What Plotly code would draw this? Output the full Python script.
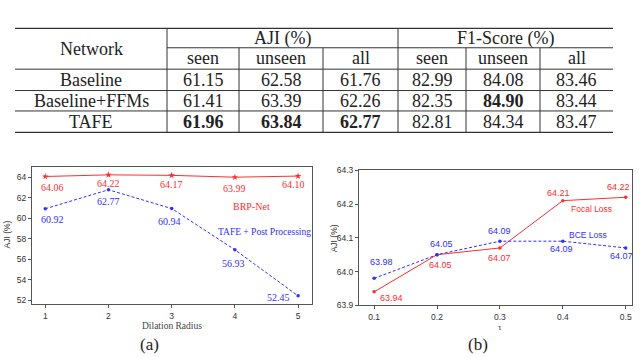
import plotly.graph_objects as go

# ── Table data ────────────────────────────────────────────────────────────────
networks   = ["Baseline", "Baseline+FFMs", "TAFE"]
sub_cols   = ["seen", "unseen", "all", "seen", "unseen", "all"]
aji_seen   = [61.15, 61.41, 61.96]
aji_unseen = [62.58, 63.39, 63.84]
aji_all    = [61.76, 62.26, 62.77]
f1_seen    = [82.99, 82.35, 82.81]
f1_unseen  = [84.08, 84.90, 84.34]
f1_all     = [83.46, 83.44, 83.47]
bold_cells = [(2, 0), (2, 1), (2, 2), (1, 4)]   # (row, value column)

# ── Chart (a) data ────────────────────────────────────────────────────────────
radius  = [1, 2, 3, 4, 5]
brp_net = [64.06, 64.22, 64.17, 63.99, 64.10]
tafe_pp = [60.92, 62.77, 60.94, 56.93, 52.45]

# ── Chart (b) data ────────────────────────────────────────────────────────────
tau   = [0.1, 0.2, 0.3, 0.4, 0.5]
focal = [63.94, 64.05, 64.07, 64.21, 64.22]
bce   = [63.98, 64.05, 64.09, 64.09, 64.07]

W, H = 640, 358
RED  = "#ff2d2d"
BLUE = "#2f2fff"
DARK = "#333333"
SERIF = "Liberation Serif, Times New Roman, serif"
SANS  = "Liberation Sans, Arial, sans-serif"


def px(x, y):
    """pixel position -> paper coords"""
    return x / W, 1 - y / H


fig = go.Figure()

# ── Table: grid lines ─────────────────────────────────────────────────────────
col_x  = [15, 167, 239, 323, 398, 466, 540, 613]
row_y  = [24, 44, 66, 88, 109, 131]
shapes = []

def hline(x0, x1, y, w=1.0):
    a, b = px(x0, y)
    c, _ = px(x1, y)
    shapes.append(dict(type="line", xref="paper", yref="paper", x0=a, x1=c, y0=b, y1=b,
                       line=dict(color=DARK, width=w)))

def vline(x, y0, y1):
    a, b = px(x, y0)
    _, d = px(x, y1)
    shapes.append(dict(type="line", xref="paper", yref="paper", x0=a, x1=a, y0=b, y1=d,
                       line=dict(color=DARK, width=1)))

hline(col_x[0], col_x[-1], row_y[0], 1.4)
hline(col_x[1], col_x[-1], row_y[1])
for y in row_y[2:5]:
    hline(col_x[0], col_x[-1], y)
hline(col_x[0], col_x[-1], row_y[-1], 1.4)
vline(col_x[1], row_y[0], row_y[-1])
vline(col_x[4], row_y[0], row_y[-1])
for x in [col_x[2], col_x[3], col_x[5], col_x[6]]:
    vline(x, row_y[1], row_y[-1])

# ── Table: text ───────────────────────────────────────────────────────────────
annotations = []

def cell(text, x, y, size=18, font=SERIF, color="#222"):
    a, b = px(x, y)
    annotations.append(dict(text=text, x=a, y=b, xref="paper", yref="paper",
                            showarrow=False, xanchor="center", yanchor="middle",
                            font=dict(family=font, size=size, color=color)))

cell("Network", (col_x[0] + col_x[1]) / 2, (row_y[0] + row_y[2]) / 2)
cell("AJI (%)", (col_x[1] + col_x[4]) / 2, (row_y[0] + row_y[1]) / 2)
cell("F1-Score (%)", (col_x[4] + col_x[7]) / 2, (row_y[0] + row_y[1]) / 2)
for j, name in enumerate(sub_cols):
    cell(name, (col_x[j + 1] + col_x[j + 2]) / 2, (row_y[1] + row_y[2]) / 2)

columns = [aji_seen, aji_unseen, aji_all, f1_seen, f1_unseen, f1_all]
for i, net in enumerate(networks):
    yc = (row_y[i + 2] + row_y[i + 3]) / 2
    cell(net, (col_x[0] + col_x[1]) / 2, yc)
    for j, col in enumerate(columns):
        txt = f"{col[i]:.2f}"
        if (i, j) in bold_cells:
            txt = f"<b>{txt}</b>"
        cell(txt, (col_x[j + 1] + col_x[j + 2]) / 2, yc)

# ── Chart (a) ─────────────────────────────────────────────────────────────────
fig.add_trace(go.Scatter(x=radius, y=brp_net, mode="lines+markers", name="BRP-Net",
                         line=dict(color=RED, width=1),
                         marker=dict(symbol="star", size=5, color=RED),
                         xaxis="x", yaxis="y"))
fig.add_trace(go.Scatter(x=radius, y=tafe_pp, mode="lines+markers", name="TAFE + Post Processing",
                         line=dict(color=BLUE, width=1, dash="3px,2px"),
                         marker=dict(symbol="circle", size=3.5, color=BLUE),
                         xaxis="x", yaxis="y"))

brp_shift  = [(7, -11), (0, -9), (0, -9), (0, -11), (-5, -8)]
tafe_shift = [(7, -11), (0, -12), (-2, -13), (-1, -14), (-20, -2)]
for xs, ys, shifts, col in [(radius, brp_net, brp_shift, RED), (radius, tafe_pp, tafe_shift, BLUE)]:
    for xv, yv, (dx, dy) in zip(xs, ys, shifts):
        annotations.append(dict(text=f"{yv:.2f}", x=xv, y=yv, xref="x", yref="y",
                                xshift=dx, yshift=dy, showarrow=False,
                                font=dict(family=SERIF, size=10, color=col)))

# ── Chart (b) ─────────────────────────────────────────────────────────────────
fig.add_trace(go.Scatter(x=tau, y=focal, mode="lines+markers", name="Focal Loss",
                         line=dict(color=RED, width=1),
                         marker=dict(symbol="circle", size=3.5, color=RED),
                         xaxis="x2", yaxis="y2"))
fig.add_trace(go.Scatter(x=tau, y=bce, mode="lines+markers", name="BCE Loss",
                         line=dict(color=BLUE, width=1, dash="3px,2px"),
                         marker=dict(symbol="circle", size=3.5, color=BLUE),
                         xaxis="x2", yaxis="y2"))

focal_shift = [(17, -6), (3, -10), (0, -10), (-4, 8), (-7, 10)]
bce_shift   = [(7, 16), (4, 11), (0, 10), (-1, -8), (-4, -8)]
for xs, ys, shifts, col in [(tau, focal, focal_shift, RED), (tau, bce, bce_shift, BLUE)]:
    for xv, yv, (dx, dy) in zip(xs, ys, shifts):
        annotations.append(dict(text=f"{yv:.2f}", x=xv, y=yv, xref="x2", yref="y2",
                                xshift=dx, yshift=dy, showarrow=False,
                                font=dict(family=SANS, size=9, color=col)))

# ── Chart labels / captions ───────────────────────────────────────────────────
def label(text, x, y, size, font, color, angle=0):
    a, b = px(x, y)
    annotations.append(dict(text=text, x=a, y=b, xref="paper", yref="paper",
                            showarrow=False, xanchor="center", yanchor="middle",
                            textangle=angle, font=dict(family=font, size=size, color=color)))

label("BRP-Net", 251, 207, 10, SERIF, RED)
label("TAFE + Post Processing", 264, 234, 9.5, SERIF, BLUE)
label("Focal Loss", 591, 210, 8.5, SANS, RED)
label("BCE Loss", 588, 237, 8.5, SANS, BLUE)
label("Dilation Radius", 172, 330, 9.5, SERIF, "#444")
label("\u03c4", 500, 331, 9, SERIF, "#444")
label("AJI (%)", 7, 236, 8.5, SANS, DARK, -90)
label("AJI (%)", 334, 240, 8.5, SANS, DARK, -90)
label("(a)", 149, 349, 17, SERIF, "#222")
label("(b)", 478, 349, 17, SERIF, "#222")

# ── Axes ──────────────────────────────────────────────────────────────────────
ax_style = dict(showline=True, mirror=True, linecolor="#555", linewidth=1,
                ticks="outside", ticklen=3, tickcolor="#555", showgrid=False,
                zeroline=False, tickfont=dict(family=SANS, size=8.5, color=DARK))

fig.update_layout(
    width=W, height=H,
    margin=dict(l=0, r=0, t=0, b=0),
    paper_bgcolor="white", plot_bgcolor="white",
    showlegend=False,
    shapes=shapes,
    annotations=annotations,
    xaxis=dict(domain=[32 / W, 312 / W], range=[0.79, 5.22], dtick=1, anchor="y", **ax_style),
    yaxis=dict(domain=[1 - 308 / H, 1 - 167 / H], range=[51.62, 64.95], dtick=2, anchor="x", **ax_style),
    xaxis2=dict(domain=[359 / W, 632 / W], range=[0.076, 0.51], dtick=0.1, tickformat=".1f",
                anchor="y2", **ax_style),
    yaxis2=dict(domain=[1 - 309 / H, 1 - 170 / H], range=[63.9, 64.3], dtick=0.1, tickformat=".1f",
                anchor="x2", **ax_style),
)

# page body margin would push the 640x358 figure out of the window
fig.write_html("out.html", config={"displayModeBar": False},
               post_script="document.body.style.margin='0';document.body.style.overflow='hidden';")
